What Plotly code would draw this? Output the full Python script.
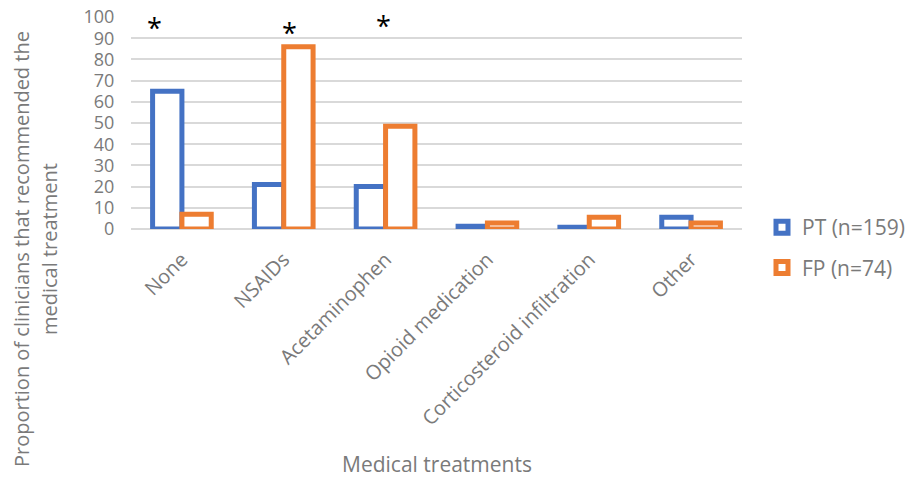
import plotly.graph_objects as go

# Share of clinicians recommending each medical treatment, by profession
treatments = ["None", "NSAIDs", "Acetaminophen", "Opioid medication",
              "Corticosteroid infiltration", "Other"]
pt_values = [65, 21, 20, 1.3, 0.8, 5.5]
fp_values = [7, 86, 48.5, 2.8, 5.5, 2.8]
series_names = ["PT (n=159)", "FP (n=74)"]
y_ticks = [0, 10, 20, 30, 40, 50, 60, 70, 80, 90, 100]

BLUE = "#4472C4"
ORANGE = "#ED7D31"
GREY_TEXT = "#7a7a7a"
FONT = "'Open Sans', Lato, sans-serif"

# plot area in pixels: x 131..742, y 17..229
L, R, T, B = 131, 742, 17, 229
W, H = R - L, B - T


def px_x(px):
    return (px - L) / W


def px_y(py):
    return (B - py) / H


fig = go.Figure()
for name, vals, col, grp in [(series_names[0], pt_values, BLUE, "pt"),
                             (series_names[1], fp_values, ORANGE, "fp")]:
    fig.add_trace(go.Bar(
        x=treatments, y=vals, name=name, legendgroup=grp,
        marker=dict(color="white", line=dict(color=col, width=5)),
    ))

# significance markers above the first three treatment groups
stars = [(0 - 0.27, 95.0), (1 + 0.06, 92.9), (2 - 0.02, 96.0)]
annotations = [
    dict(x=sx, y=sy, xref="x", yref="y", text="*", showarrow=False,
         font=dict(family=FONT, size=27, color="black"),
         xanchor="center", yanchor="middle")
    for sx, sy in stars
]
annotations.append(dict(
    x=px_x(437), y=px_y(464), xref="paper", yref="paper",
    text="Medical treatments", showarrow=False,
    font=dict(family=FONT, size=21, color=GREY_TEXT),
    xanchor="center", yanchor="middle"))
# two-line rotated y-axis title
for text, cx in [("Proportion of clinicians that recommended the", 21),
                 ("medical treatment", 49)]:
    annotations.append(dict(
        x=px_x(cx), y=px_y(249), xref="paper", yref="paper",
        text=text, showarrow=False, textangle=-90,
        font=dict(family=FONT, size=20, color=GREY_TEXT),
        xanchor="center", yanchor="middle"))

fig.update_layout(
    width=912, height=487,
    margin=dict(l=L, r=912 - R, t=T, b=487 - B, autoexpand=False),
    paper_bgcolor="white", plot_bgcolor="white",
    barmode="group", bargap=0.424, bargroupgap=0,
    font=dict(family=FONT, size=19, color=GREY_TEXT),
    showlegend=True,
    legend=dict(x=px_x(762), y=px_y(207), xanchor="left", yanchor="top",
                font=dict(family=FONT, size=21, color=GREY_TEXT),
                tracegroupgap=10, bgcolor="rgba(0,0,0,0)"),
    annotations=annotations,
)
fig.update_xaxes(
    tickangle=-45, showgrid=False, showline=False, zeroline=False,
    ticks="outside", ticklen=10, tickcolor="rgba(0,0,0,0)",
    tickfont=dict(family=FONT, size=20, color=GREY_TEXT),
    automargin=False,
)
fig.update_yaxes(
    range=[0, 100], tickvals=y_ticks, showgrid=True,
    gridcolor="#d9d9d9", gridwidth=1.5, zeroline=True,
    zerolinecolor="#d9d9d9", zerolinewidth=1.5, showline=False,
    ticks="outside", ticklen=12, tickcolor="rgba(0,0,0,0)",
    tickfont=dict(family=FONT, size=18, color=GREY_TEXT),
    automargin=False,
)

fig.write_html("out.html")
